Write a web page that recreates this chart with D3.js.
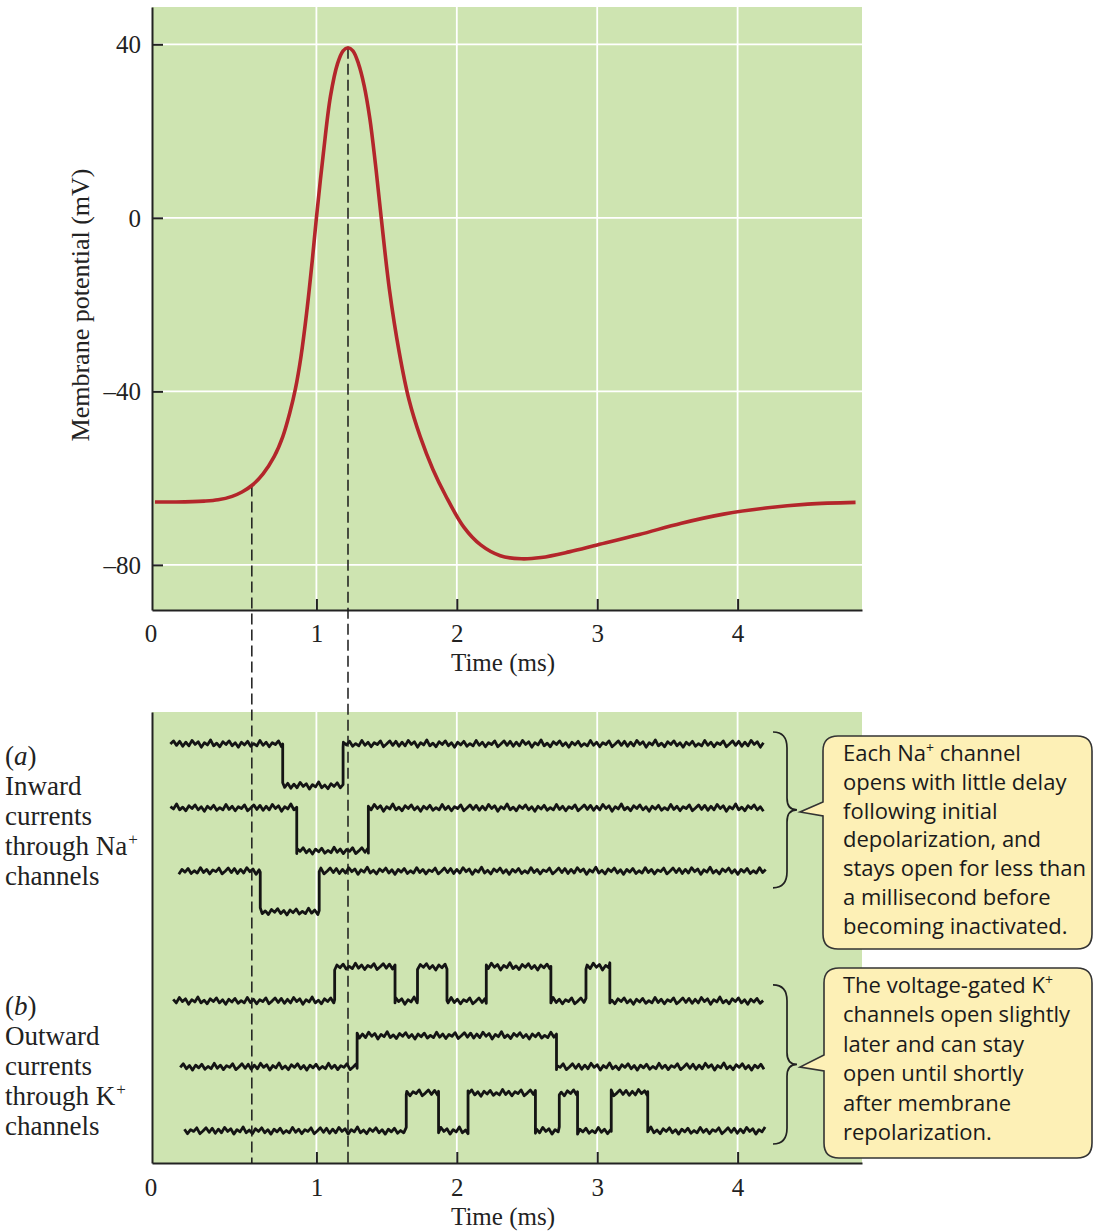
<!DOCTYPE html>
<html>
<head>
<meta charset="utf-8">
<script src="https://cdn.jsdelivr.net/npm/d3@7"></script>
<style>
  html, body { margin: 0; padding: 0; background: #ffffff; }
  svg { display: block; }
</style>
</head>
<body>
<svg id="chart" width="1095" height="1232"></svg>
<script>
// ---------- DATA ----------
// Action potential (membrane potential, mV, vs time, ms)
const apTime = [-0.15, 0.0, 0.2, 0.3, 0.4, 0.47, 0.54, 0.62, 0.70, 0.76, 0.81, 0.85, 0.89, 0.93, 0.97, 1.0, 1.05, 1.10, 1.15, 1.19, 1.225, 1.26, 1.30, 1.34, 1.38, 1.42, 1.46, 1.52, 1.59, 1.66, 1.74, 1.83, 1.92, 2.05, 2.17, 2.31, 2.46, 2.6, 2.8, 3.0, 3.3, 3.6, 3.9, 4.2, 4.5, 4.84];
const apVoltage = [-65.5, -65.5, -65.3, -65.0, -64.2, -63.2, -61.7, -59, -55, -50.5, -45, -39.5, -32, -22, -10, 0, 15, 28, 35.5, 38.5, 39.2, 38.5, 35.5, 30.5, 23, 12.5, 0.5, -16.5, -31, -42, -50.5, -58, -64, -71.3, -75.4, -77.9, -78.6, -78.3, -77, -75.4, -73, -70.4, -68.3, -66.9, -66, -65.6];

const yTickValues = [40, 0, -40, -80];
const xTickValues = [1, 2, 3, 4];
const xOriginLabel = "0";
const markerTimes = [0.54, 1.225];   // dashed guide lines (ms)

// Single-channel recordings (arbitrary current units; time in ms)
const naStart = [-0.04, -0.04, 0.02];
const naEnd = [4.2, 4.2, 4.2];
const naClosedLevel = [9.29, 7.87, 6.47];
const naOpenLevel = [8.36, 6.92, 5.57];
const naTransitions = [[0.76, 1.19], [0.86, 1.37], [0.60, 1.02]];

const kStart = [-0.02, 0.03, 0.06];
const kEnd = [4.2, 4.2, 4.2];
const kClosedLevel = [3.59, 2.13, 0.71];
const kOpenLevel = [4.35, 2.82, 1.55];
const kTransitions = [
  [1.13, 1.56, 1.72, 1.93, 2.21, 2.67, 2.92, 3.09],
  [1.29, 2.71],
  [1.64, 1.87, 2.08, 2.56, 2.73, 2.86, 3.10, 3.36]
];
// recording noise texture (current units)
const noisePattern = [0.00, 0.07, -0.03, 0.06, -0.05, 0.04, -0.04, 0.08, -0.01, 0.05, -0.07, 0.03, -0.02, 0.09, -0.04, 0.02, -0.06, 0.05, -0.01, 0.07, -0.04, 0.03, -0.07, 0.04, -0.02, 0.06, -0.05, 0.01, -0.04, 0.08, -0.03, 0.04, -0.06, 0.03, -0.01, 0.07, -0.06];
const sampleStep = 0.022;

const labelA = ["Inward", "currents", "through Na", "channels"];
const labelB = ["Outward", "currents", "through K", "channels"];
const noteNa = ["Each Na+ channel", "opens with little delay", "following initial", "depolarization, and", "stays open for less than", "a millisecond before", "becoming inactivated."];
const noteK = ["The voltage-gated K+", "channels open slightly", "later and can stay", "open until shortly", "after membrane", "repolarization."];

// ---------- LAYOUT ----------
const GREEN = "#cee4b1";
const SERIF = "'Liberation Serif', 'Times New Roman', serif";
const SANS = "'Open Sans', 'Noto Sans', sans-serif";
const panelL = 152, panelR = 862;
const top1 = 7, bot1 = 610;
const top2 = 712, bot2 = 1163;

const svg = d3.select("#chart");

const x = d3.scaleLinear().domain([-0.171, 4.886]).range([panelL, panelR]);
const y = d3.scaleLinear().domain([-90.4, 48.6]).range([bot1, top1]);
const yB = d3.scaleLinear().domain([0, 10]).range([bot2, top2]);

// ---------- TOP PANEL ----------
const g1 = svg.append("g");
g1.append("rect").attr("x", panelL).attr("y", top1)
  .attr("width", panelR - panelL).attr("height", bot1 - top1).attr("fill", GREEN);

g1.selectAll("line.vg").data(xTickValues).join("line")
  .attr("x1", d => x(d)).attr("x2", d => x(d))
  .attr("y1", top1).attr("y2", bot1)
  .attr("stroke", "#ffffff").attr("stroke-width", 1.8);
g1.selectAll("line.hg").data(yTickValues).join("line")
  .attr("x1", panelL).attr("x2", panelR)
  .attr("y1", d => y(d)).attr("y2", d => y(d))
  .attr("stroke", "#ffffff").attr("stroke-width", 1.8);

const fmt = v => v < 0 ? "\u2013" + Math.abs(v) : String(v);

const yAxis = g1.append("g").attr("transform", `translate(${panelL},0)`)
  .call(d3.axisLeft(y).tickValues(yTickValues).tickFormat(fmt).tickSizeInner(-11).tickSizeOuter(0).tickPadding(11));
const xAxis1 = g1.append("g").attr("transform", `translate(0,${bot1})`)
  .call(d3.axisBottom(x).tickValues(xTickValues).tickFormat(d3.format("d")).tickSizeInner(-11).tickSizeOuter(0).tickPadding(14));

function styleAxis(ax) {
  ax.select(".domain").attr("stroke", "#222").attr("stroke-width", 2);
  ax.selectAll(".tick line").attr("stroke", "#222").attr("stroke-width", 2);
  ax.selectAll(".tick text").attr("font-family", SERIF).attr("font-size", 25).attr("fill", "#222");
}
styleAxis(yAxis);
styleAxis(xAxis1);
yAxis.selectAll(".tick text").attr("dy", "0.33em");
xAxis1.selectAll(".tick text").attr("dy", "0.71em");

g1.append("text").attr("x", x.range()[0] - 1).attr("y", bot1 + 14).attr("dy", "0.71em")
  .attr("text-anchor", "middle").attr("font-family", SERIF).attr("font-size", 25).attr("fill", "#222")
  .text(xOriginLabel);

g1.append("text").attr("transform", `translate(89,305) rotate(-90)`)
  .attr("text-anchor", "middle").attr("font-family", SERIF).attr("font-size", 26).attr("fill", "#222")
  .text("Membrane potential (mV)");
g1.append("text").attr("x", 503).attr("y", 671).attr("text-anchor", "middle")
  .attr("font-family", SERIF).attr("font-size", 25).attr("fill", "#222").text("Time (ms)");

// ---------- BOTTOM PANEL ----------
const g2 = svg.append("g");
g2.append("rect").attr("x", panelL).attr("y", top2)
  .attr("width", panelR - panelL).attr("height", bot2 - top2).attr("fill", GREEN);
g2.selectAll("line.vg").data(xTickValues).join("line")
  .attr("x1", d => x(d)).attr("x2", d => x(d))
  .attr("y1", top2).attr("y2", bot2)
  .attr("stroke", "#ffffff").attr("stroke-width", 1.8);

const yAxis2 = g2.append("g").attr("transform", `translate(${panelL},0)`)
  .call(d3.axisLeft(yB).tickValues([]).tickSizeOuter(0));
const xAxis2 = g2.append("g").attr("transform", `translate(0,${bot2})`)
  .call(d3.axisBottom(x).tickValues(xTickValues).tickFormat(d3.format("d")).tickSizeInner(-11).tickSizeOuter(0).tickPadding(15));
styleAxis(yAxis2);
styleAxis(xAxis2);
xAxis2.selectAll(".tick text").attr("dy", "0.71em");
g2.append("text").attr("x", x.range()[0] - 1).attr("y", bot2 + 15).attr("dy", "0.71em")
  .attr("text-anchor", "middle").attr("font-family", SERIF).attr("font-size", 25).attr("fill", "#222")
  .text(xOriginLabel);
g2.append("text").attr("x", 503).attr("y", 1225).attr("text-anchor", "middle")
  .attr("font-family", SERIF).attr("font-size", 25).attr("fill", "#222").text("Time (ms)");

// traces
function buildTrace(start, end, closed, open, transitions, phase) {
  const pts = [];
  let k = phase;
  const nz = () => noisePattern[(k++) % noisePattern.length];
  let isOpen = false;
  let ev = 0;
  for (let t = start; t <= end + 1e-9; t += sampleStep) {
    while (ev < transitions.length && transitions[ev] <= t) {
      const te = transitions[ev];
      const before = isOpen ? open : closed;
      isOpen = !isOpen;
      const after = isOpen ? open : closed;
      pts.push([te, before + nz()]);
      pts.push([te, after + nz()]);
      ev++;
    }
    pts.push([t, (isOpen ? open : closed) + nz()]);
  }
  return pts;
}
const traceLine = d3.line().x(d => x(d[0])).y(d => yB(d[1])).curve(d3.curveLinear);
const traces = [];
naStart.forEach((s, i) => traces.push(buildTrace(s, naEnd[i], naClosedLevel[i], naOpenLevel[i], naTransitions[i], i * 11)));
kStart.forEach((s, i) => traces.push(buildTrace(s, kEnd[i], kClosedLevel[i], kOpenLevel[i], kTransitions[i], 5 + i * 13)));
g2.selectAll("path.trace").data(traces).join("path")
  .attr("d", traceLine).attr("fill", "none")
  .attr("stroke", "#141414").attr("stroke-width", 2.8).attr("stroke-linejoin", "round");

// ---------- ACTION POTENTIAL CURVE ----------
const apData = apTime.map((t, i) => [t, apVoltage[i]]);
const apLine = d3.line().x(d => x(d[0])).y(d => y(d[1])).curve(d3.curveCatmullRom.alpha(0.5));

const apInterp = t => {
  const i = d3.bisectLeft(apTime, t);
  if (apTime[i] === t) return apVoltage[i];
  const t0 = apTime[i - 1], t1 = apTime[i];
  return apVoltage[i - 1] + (apVoltage[i] - apVoltage[i - 1]) * (t - t0) / (t1 - t0);
};
svg.selectAll("line.guide").data(markerTimes).join("line")
  .attr("x1", d => x(d)).attr("x2", d => x(d))
  .attr("y1", d => y(apInterp(d))).attr("y2", bot2)
  .attr("stroke", "#1a1a1a").attr("stroke-width", 1.5).attr("stroke-dasharray", "11,5");

svg.append("path").datum(apData).attr("d", apLine)
  .attr("fill", "none").attr("stroke", "#b3262b").attr("stroke-width", 3.6);

// ---------- LEFT LABELS ----------
function sideLabel(letter, lines, y0) {
  const t = svg.append("g").attr("font-family", SERIF).attr("font-size", 27).attr("fill", "#222");
  const first = t.append("text").attr("x", 5).attr("y", y0);
  first.append("tspan").text("(");
  first.append("tspan").attr("font-style", "italic").text(letter);
  first.append("tspan").text(")");
  lines.forEach((ln, i) => {
    const tx = t.append("text").attr("x", 5).attr("y", y0 + 30 * (i + 1)).text(ln);
    if (i === 2) tx.append("tspan").attr("font-size", 17).attr("dx", 1).attr("dy", -10).text("+");
  });
}
sideLabel("a", labelA, 765);
sideLabel("b", labelB, 1015);

// ---------- BRACES ----------
function brace(yTop, yBot, xEnd, xSpine, xTip) {
  const ym = (yTop + yBot) / 2;
  return `M${xEnd},${yTop} Q${xSpine},${yTop} ${xSpine},${yTop + 16} L${xSpine},${ym - 12} Q${xSpine},${ym} ${xTip},${ym} Q${xSpine},${ym} ${xSpine},${ym + 12} L${xSpine},${yBot - 16} Q${xSpine},${yBot} ${xEnd},${yBot}`;
}
const braceData = [
  [yB(naClosedLevel[0]) - 12, yB(naOpenLevel[2]) - 24],
  [yB(kOpenLevel[0]) + 18, yB(kClosedLevel[2]) + 13]
];
svg.selectAll("path.brace").data(braceData).join("path")
  .attr("d", d => brace(d[0], d[1], 773, 787, 797))
  .attr("fill", "none").attr("stroke", "#222").attr("stroke-width", 1.7);

// ---------- CALLOUTS ----------
function callout(x0, y0, x1, y1, pyA, tipX, tipY, pyB) {
  const r = 15;
  return `M${x0 + r},${y0} H${x1 - r} Q${x1},${y0} ${x1},${y0 + r} V${y1 - r} Q${x1},${y1} ${x1 - r},${y1} H${x0 + r} Q${x0},${y1} ${x0},${y1 - r} V${pyB} L${tipX},${tipY} L${x0},${pyA} V${y0 + r} Q${x0},${y0} ${x0 + r},${y0} Z`;
}
svg.append("path").attr("d", callout(823, 736, 1092, 949, 802, 800, 812, 816))
  .attr("fill", "#fdf0b6").attr("stroke", "#333").attr("stroke-width", 1.6);
svg.append("path").attr("d", callout(824, 968, 1092, 1158, 1055, 800, 1067, 1071))
  .attr("fill", "#fdf0b6").attr("stroke", "#333").attr("stroke-width", 1.6);

function noteText(lines, x0, y0, lh) {
  const g = svg.append("g").attr("font-family", SANS).attr("font-size", 22).attr("fill", "#1a1a1a");
  lines.forEach((ln, i) => {
    const tx = g.append("text").attr("x", x0).attr("y", y0 + lh * i);
    const p = ln.indexOf("+");
    if (p >= 0) {
      tx.append("tspan").text(ln.slice(0, p));
      tx.append("tspan").attr("font-size", 14).attr("dy", -8).text("+");
      tx.append("tspan").attr("dy", 8).text(ln.slice(p + 1));
    } else tx.text(ln);
  });
}
noteText(noteNa, 843, 761, 28.8);
noteText(noteK, 843, 993, 29.4);
</script>
</body>
</html>
